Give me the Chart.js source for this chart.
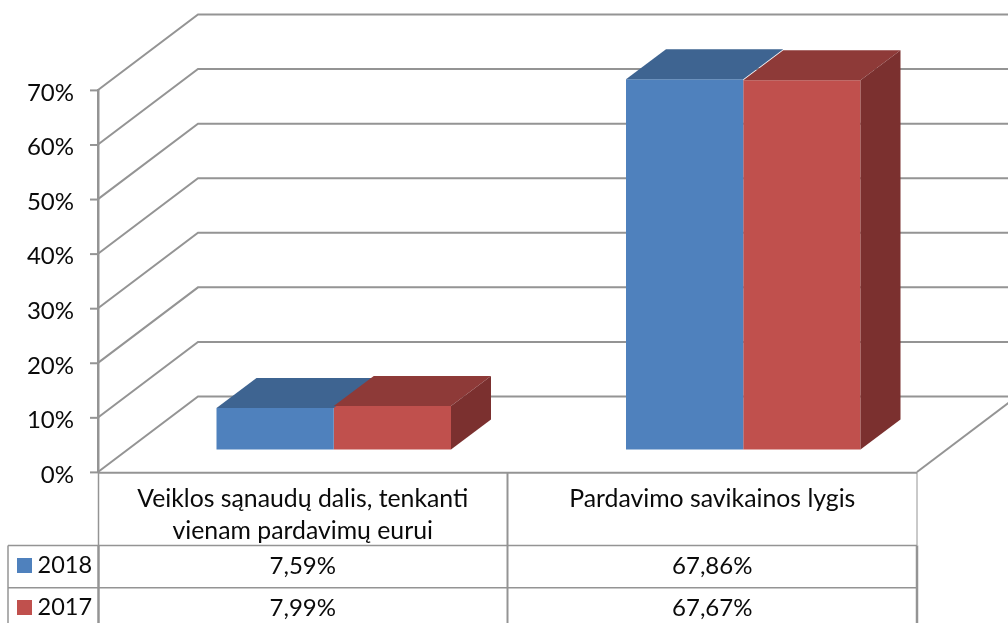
<!DOCTYPE html>
<html>
<head>
<meta charset="utf-8">
<style>html,body{margin:0;padding:0;background:#fff;overflow:hidden}canvas{display:block}</style>
<script src="https://cdn.jsdelivr.net/npm/chart.js@4"></script>
</head>
<body>
<canvas id="c" width="1008" height="623"></canvas>
<script>
const categories = [["Veiklos sąnaudų dalis, tenkanti", "vienam pardavimų eurui"], "Pardavimo savikainos lygis"];
const seriesNames = ["2018", "2017"];
const values2018 = [7.59, 67.86];
const values2017 = [7.99, 67.67];
const colors2018 = {front: "#4f81bd", top: "#3e6491", side: "#2f4c70"};
const colors2017 = {front: "#c0504d", top: "#8e3a38", side: "#7b302f"};
const FONT = "Lato, Carlito, sans-serif";
const TXT = "#0a0a0a";
const LINE = "#949494";

function fmt(v){ return v.toFixed(2).replace(".", ",") + "%"; }

const plugin3d = {
  id: "plugin3d",
  beforeDatasetsDraw(chart){
    const {ctx, chartArea:a, scales:{y}} = chart;
    const dx = 100, dy = -75.5;
    ctx.save();
    ctx.strokeStyle = LINE; ctx.lineWidth = 2; ctx.lineJoin = "miter";
    y.ticks.forEach(t => {
      const py = y.getPixelForValue(t.value);
      ctx.beginPath();
      ctx.moveTo(a.left, py);
      ctx.lineTo(a.left + dx, py + dy);
      ctx.lineTo(a.right + dx, py + dy);
      ctx.stroke();
      ctx.beginPath();
      ctx.moveTo(a.left - 8, py + 0.4);
      ctx.lineTo(a.left, py + 0.4);
      ctx.stroke();
    });
    ctx.beginPath();
    ctx.moveTo(a.right, a.bottom);
    ctx.lineTo(a.right + dx, a.bottom + dy);
    ctx.stroke();
    ctx.lineWidth = 2;
    ctx.beginPath();
    ctx.moveTo(a.left, a.bottom + 0.8);
    ctx.lineTo(a.right, a.bottom + 0.8);
    ctx.stroke();
    ctx.restore();
    ctx.save();
    ctx.translate(31, -22.5);
  },
  afterDatasetsDraw(chart){
    const {ctx} = chart;
    const pal = [colors2018, colors2017];
    const bx = 40, by = -30;
    chart.data.datasets.forEach((ds, i) => {
      chart.getDatasetMeta(i).data.forEach(el => {
        const l = el.x - el.width/2, r = el.x + el.width/2, t = el.y, b = el.base;
        ctx.fillStyle = pal[i].top;
        ctx.beginPath();
        ctx.moveTo(l, t); ctx.lineTo(l+bx, t+by); ctx.lineTo(r+bx, t+by); ctx.lineTo(r, t);
        ctx.closePath(); ctx.fill();
        if (i === chart.data.datasets.length - 1) {
          ctx.fillStyle = pal[i].side;
          ctx.beginPath();
          ctx.moveTo(r, t); ctx.lineTo(r+bx, t+by); ctx.lineTo(r+bx, b+by); ctx.lineTo(r, b);
          ctx.closePath(); ctx.fill();
        }
      });
    });
    ctx.restore();
  },
  afterDraw(chart){
    const {ctx, chartArea:a} = chart;
    const yHead = 545.5, yRow = 587.8, yEnd = 623, xLeg = 8;
    const xMid = (a.left + a.right) / 2;
    ctx.save();
    ctx.strokeStyle = LINE; ctx.lineWidth = 1.5;
    const seg = (x1,y1,x2,y2,w) => { ctx.lineWidth = w; ctx.beginPath(); ctx.moveTo(x1,y1); ctx.lineTo(x2,y2); ctx.stroke(); };
    seg(xLeg, yHead, a.right, yHead, 1.5);
    seg(xLeg, yRow, a.right, yRow, 1.5);
    seg(xLeg, yHead, xLeg, yEnd, 1.5);
    seg(a.left + 0.5, a.bottom, a.left + 0.5, yHead, 1.5);
    seg(a.left + 0.5, yHead, a.left + 0.5, yEnd, 2.5);
    seg(xMid, a.bottom, xMid, yEnd, 2);
    seg(a.right, a.bottom, a.right, yHead, 1);
    seg(a.right, yHead, a.right, yEnd, 2.5);
    ctx.fillStyle = TXT; ctx.textBaseline = "middle";
    const rows = [[values2018, colors2018, 566], [values2017, colors2017, 608]];
    const cw = (a.right - a.left) / 2;
    rows.forEach((row, ri) => {
      const [vals, col, py] = row;
      ctx.fillStyle = col.front;
      ctx.fillRect(17, py - 8, 15, 15);
      ctx.fillStyle = TXT;
      ctx.textAlign = "left";
      ctx.font = "23.5px " + FONT;
      ctx.fillText(seriesNames[ri], 37.5, py - 0.5);
      ctx.textAlign = "center";
      ctx.font = "24px " + FONT;
      vals.forEach((v, vi) => ctx.fillText(fmt(v), a.left + cw * (vi + .5), py));
    });
    ctx.restore();
  }
};

new Chart(document.getElementById("c"), {
  type: "bar",
  data: {
    labels: categories,
    datasets: [
      {label: seriesNames[0], data: values2018, backgroundColor: colors2018.front, clip: false},
      {label: seriesNames[1], data: values2017, backgroundColor: colors2017.front, clip: false}
    ]
  },
  plugins: [plugin3d],
  options: {
    responsive: false,
    animation: false,
    layout: {padding: {top: 90, right: 91, left: 0, bottom: 0}},
    plugins: {legend: {display: false}, tooltip: {enabled: false}, title: {display: false}},
    datasets: {bar: {barPercentage: 1, categoryPercentage: 234.5 / 409.5}},
    scales: {
      x: {
        afterFit(s){ s.height = 151; },
        grid: {display: false, drawTicks: false},
        border: {display: false},
        ticks: {color: TXT, padding: 11.5, maxRotation: 0, autoSkip: false, font: {family: FONT, size: 24.8, lineHeight: 1.28}}
      },
      y: {
        min: 0, max: 70,
        afterFit(s){
          s.width = 98;
          const orig = s.drawLabels;
          s.drawLabels = function(area){
            const c = this.ctx; c.save(); c.translate(0, 1.5); orig.call(this, area); c.restore();
          };
        },
        grid: {display: false},
        border: {display: true, color: LINE, width: 2.5},
        ticks: {stepSize: 10, color: TXT, padding: 16, callback: v => v + "%", font: {family: FONT, size: 24}}
      }
    }
  }
});
</script>
</body>
</html>
